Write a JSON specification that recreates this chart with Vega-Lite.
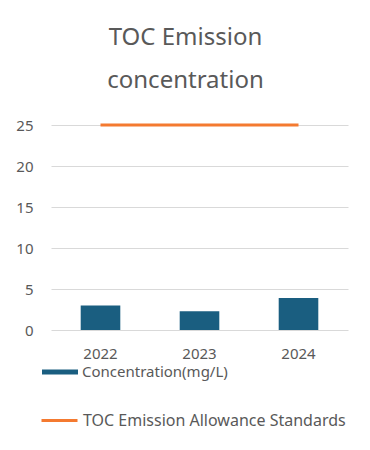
{
  "$schema": "https://vega.github.io/schema/vega-lite/v6.json",
  "width": 297,
  "height": 205,
  "autosize": "none",
  "padding": {"left": 51, "top": 125, "right": 22, "bottom": 120},
  "background": "white",
  "title": {
    "text": ["TOC Emission", "concentration"],
    "fontSize": 24,
    "fontWeight": "normal",
    "font": "Noto Sans",
    "color": "#595959",
    "lineHeight": 43,
    "anchor": "middle",
    "frame": "group",
    "dx": -14,
    "offset": 25
  },
  "data": {
    "values": [
      {"year": "2022", "concentration": 3.0, "standard": 25},
      {"year": "2023", "concentration": 2.3, "standard": 25},
      {"year": "2024", "concentration": 3.9, "standard": 25}
    ]
  },
  "config": {
    "view": {"stroke": null},
    "font": "Noto Sans",
    "axis": {"labelFont": "Noto Sans", "labelColor": "#595959", "labelFontSize": 15},
    "legend": {"labelFont": "Noto Sans", "labelColor": "#595959", "labelFontSize": 15, "labelLimit": 320}
  },
  "encoding": {
    "x": {
      "field": "year",
      "type": "nominal",
      "scale": {"paddingInner": 0.6, "paddingOuter": 0.3},
      "axis": {"title": null, "labelAngle": 0, "ticks": false, "domain": false, "labelPadding": 16, "grid": false}
    }
  },
  "layer": [
    {
      "mark": {"type": "bar"},
      "encoding": {
        "y": {
          "field": "concentration",
          "type": "quantitative",
          "scale": {"domain": [0, 25], "nice": false},
          "axis": {"title": null, "values": [0, 5, 10, 15, 20, 25], "ticks": false, "domain": false, "labelPadding": 18, "gridColor": "#D9D9D9", "gridWidth": 1}
        },
        "fill": {
          "datum": "Concentration(mg/L)",
          "type": "nominal",
          "scale": {"range": ["#1A5E80"]},
          "legend": {
            "title": null,
            "orient": "none",
            "legendX": -9,
            "legendY": 229,
            "padding": 0,
            "symbolType": "M-1,-0.14H1V0.14H-1Z",
            "symbolSize": 1296,
            "symbolStrokeWidth": 0,
            "labelOffset": 4
          }
        }
      }
    },
    {
      "mark": {"type": "line", "strokeWidth": 3},
      "encoding": {
        "y": {"field": "standard", "type": "quantitative"},
        "stroke": {
          "datum": "TOC Emission Allowance Standards",
          "type": "nominal",
          "scale": {"range": ["#F47A30"]},
          "legend": {
            "title": null,
            "orient": "none",
            "legendX": -11,
            "legendY": 276,
            "padding": 0,
            "symbolType": "stroke",
            "symbolSize": 1296,
            "symbolStrokeWidth": 3,
            "labelOffset": 4,
            "labelFontSize": 16
          }
        }
      }
    }
  ]
}
